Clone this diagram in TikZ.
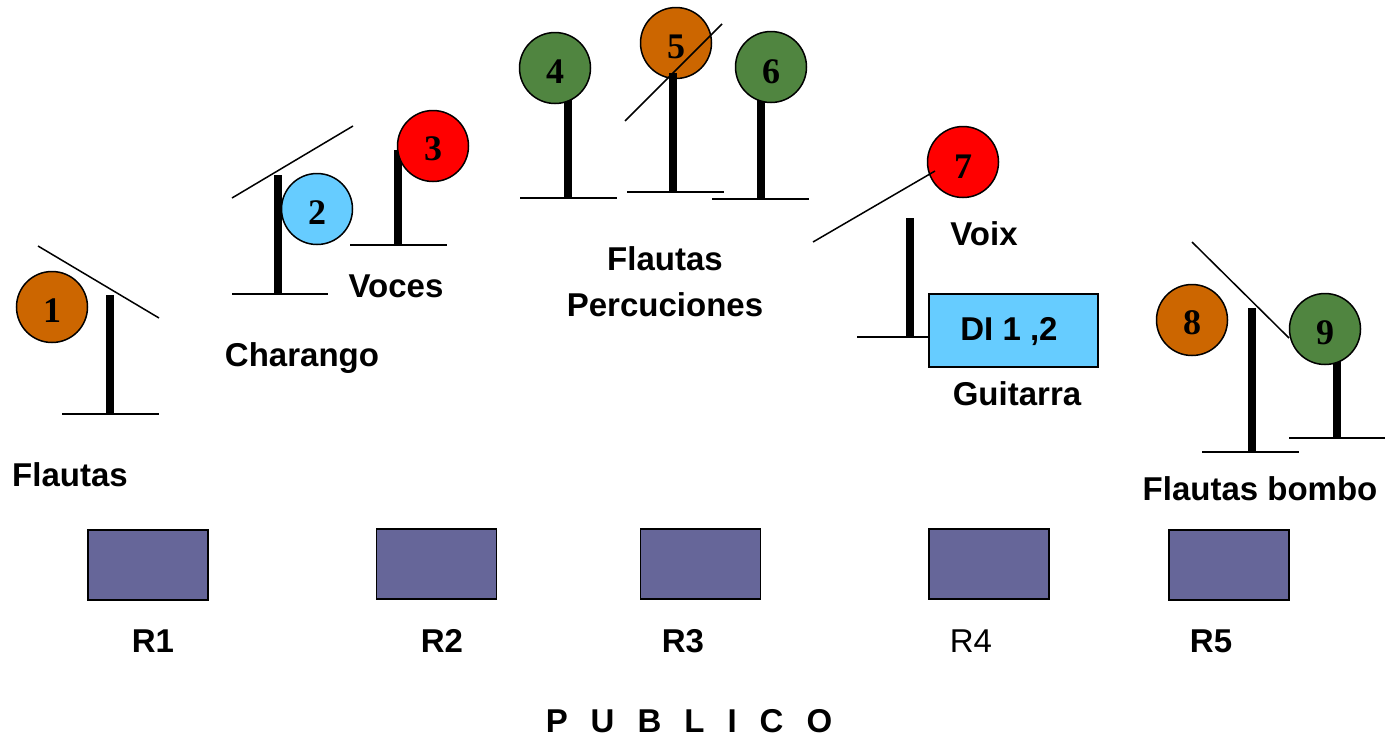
\documentclass[tikz,border=0pt]{standalone}
\usepackage{fontspec}
\setmainfont{Liberation Sans}
\newfontfamily\numfont{Liberation Serif}
\definecolor{corange}{HTML}{CC6600}
\definecolor{cgreen}{HTML}{508540}
\definecolor{cred}{HTML}{FF0000}
\definecolor{cblue}{HTML}{66CCFF}
\definecolor{cbox}{HTML}{666699}
\tikzset{
  mic/.style={circle, draw=black, line width=1.5pt, minimum size=71pt, inner sep=0pt},
  num/.style={font=\numfont\bfseries\fontsize{36}{38}\selectfont, inner sep=0pt},
  bar/.style={line width=8pt},
  base/.style={line width=1.6pt},
  diag/.style={line width=1.5pt},
  lbl/.style={anchor=base, inner sep=0pt, font=\bfseries\fontsize{33}{36}\selectfont},
  lblr/.style={anchor=base, inner sep=0pt, font=\fontsize{33}{36}\selectfont},
  recv/.style={draw=black, line width=1.5pt, fill=cbox, minimum width=120pt, minimum height=70pt, inner sep=0pt},
}
\begin{document}
\begin{tikzpicture}[x=1pt,y=-1pt]
\useasboundingbox (0,0) rectangle (1389,737);
% --- stands (bars + bases)
\draw[base] (62,414) -- (159,414);
\draw[bar] (110,295) -- (110,414);
\draw[base] (232,294) -- (328,294);
\draw[bar] (278,175) -- (278,294);
\draw[base] (350,245) -- (447,245);
\draw[bar] (398,150) -- (398,245);
\draw[base] (520,198) -- (617,198);
\draw[bar] (568,98) -- (568,198);
\draw[base] (627,192) -- (724,192);
\draw[base] (712,199) -- (809,199);
\draw[bar] (761,98) -- (761,199);
\draw[base] (857,337) -- (929,337);
\draw[bar] (910,218) -- (910,337);
\draw[base] (1202,452) -- (1299,452);
\draw[bar] (1252,308) -- (1252,452);
\draw[base] (1289,438) -- (1385,438);
\draw[bar] (1337,360) -- (1337,438);
% --- microphones
\node[mic, fill=corange] (m1) at (52,307) {};
\node[mic, fill=cblue]   (m2) at (317,209) {};
\node[mic, fill=cred]    (m3) at (433,146) {};
\node[mic, fill=cgreen]  (m4) at (555,68) {};
\node[mic, fill=corange] (m5) at (676,43) {};
\node[mic, fill=cgreen]  (m6) at (771,67) {};
\node[mic, fill=cred]    (m7) at (963,162) {};
\node[mic, fill=corange] (m8) at (1192,320) {};
\node[mic, fill=cgreen]  (m9) at (1325,329) {};
\node[num] (n1) at ([yshift=-4pt]m1.center) {1};
\node[num] (n2) at ([yshift=-4pt]m2.center) {2};
\node[num] (n3) at ([yshift=-3pt]m3.center) {3};
\node[num] (n4) at ([yshift=-4pt]m4.center) {4};
\node[num] (n5) at ([yshift=-4pt]m5.center) {5};
\node[num] (n6) at ([yshift=-5pt]m6.center) {6};
\node[num] (n7) at ([yshift=-5pt]m7.center) {7};
\node[num] (n8) at ([yshift=-3pt]m8.center) {8};
\node[num] (n9) at ([yshift=-4pt]m9.center) {9};
\draw[bar] (673,73) -- (673,192);
% --- boom lines
\draw[diag] (38,246) -- (159,318);
\draw[diag] (232,198) -- (353,126);
\draw[diag] (625,121) -- (722,24);
\draw[diag] (813,242) -- (935,171);
\draw[diag] (1192,242) -- (1289,338);
% --- DI box
\node[draw=black, line width=1.5pt, fill=cblue, minimum width=169pt, minimum height=73pt, inner sep=0pt] (di) at (1013.5,330.5) {};
\node[lbl] (ditext) at (1009,340) {DI 1 ,2};
% --- labels
\node[lbl] (lflautas) at (70,486) {Flautas};
\node[lbl] (lcharango) at (302,366) {Charango};
\node[lbl] (lvoces) at (396,297) {Voces};
\node[lbl] (lflautas2) at (665,270) {Flautas};
\node[lbl] (lpercu) at (665,316) {Percuciones};
\node[lbl] (lvoix) at (984,245) {Voix};
\node[lbl] (lguitarra) at (1017,405) {Guitarra};
\node[lbl] (lbombo) at (1260,500) {Flautas bombo};
% --- receivers
\node[recv] (r1) at (148,565) {};
\node[recv] (r2) at (436.5,564) {};
\node[recv] (r3) at (700.5,564) {};
\node[recv] (r4) at (989,564) {};
\node[recv] (r5) at (1229,565) {};
\node[lbl]  (lr1) at (153,652) {R1};
\node[lbl]  (lr2) at (442,652) {R2};
\node[lbl]  (lr3) at (683,652) {R3};
\node[lblr] (lr4) at (971,652) {R4};
\node[lbl]  (lr5) at (1211,652) {R5};
\node[lbl] (publico) at (689,732) {\spaceskip=23pt P U B L I C O};
\end{tikzpicture}
\end{document}
